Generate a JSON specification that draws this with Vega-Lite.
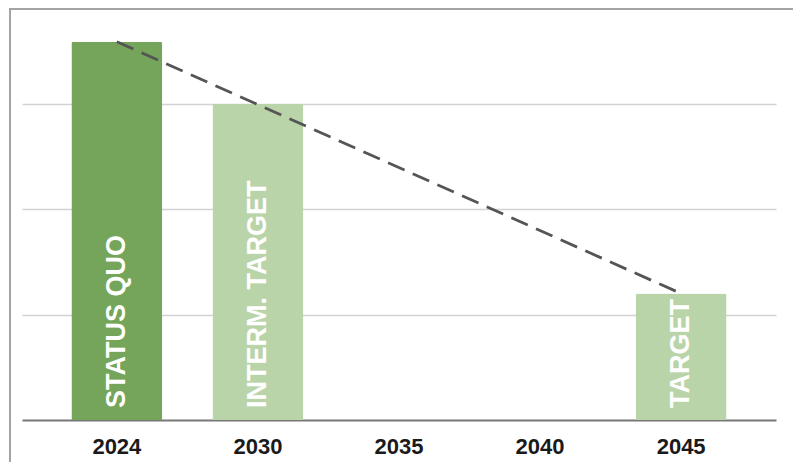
{
  "$schema": "https://vega.github.io/schema/vega-lite/v6.json",
  "width": 800,
  "height": 470,
  "autosize": {"type": "none"},
  "padding": {"left": 10, "top": 9, "right": -17, "bottom": -17},
  "background": "white",
  "config": {
    "view": {"stroke": "#a3a3a3", "strokeWidth": 2},
    "font": "Liberation Sans"
  },
  "data": {
    "values": [
      {"year": "2024", "value": 3.59, "label": "STATUS QUO", "kind": "status"},
      {"year": "2030", "value": 3.0, "label": "INTERM. TARGET", "kind": "target"},
      {"year": "2045", "value": 1.2, "label": "TARGET", "kind": "target"}
    ]
  },
  "encoding": {
    "x": {
      "field": "year",
      "type": "ordinal",
      "sort": null,
      "scale": {
        "domain": ["2024", "2030", "2035", "2040", "2045"],
        "range": [12, 766],
        "paddingInner": 0.355,
        "paddingOuter": 0.35
      },
      "axis": {
        "title": null,
        "orient": "bottom",
        "offset": -59,
        "domainColor": "#777777",
        "domainWidth": 2,
        "ticks": false,
        "labelAngle": 0,
        "labelFont": "Liberation Sans",
        "labelFontSize": 22,
        "labelFontWeight": "bold",
        "labelColor": "#1a1a1a",
        "labelPadding": 16,
        "grid": false
      }
    }
  },
  "layer": [
    {
      "mark": {"type": "bar", "cornerRadiusTopLeft": 2, "cornerRadiusTopRight": 2},
      "encoding": {
        "y": {
          "field": "value",
          "type": "quantitative",
          "scale": {"domain": [0, 3.9], "range": [411, 0], "nice": false, "zero": true},
          "axis": {
            "title": null,
            "values": [1, 2, 3],
            "labels": false,
            "ticks": false,
            "domain": false,
            "grid": true,
            "gridColor": "#d2d2d2",
            "gridWidth": 1.5
          }
        },
        "color": {
          "field": "kind",
          "type": "nominal",
          "scale": {"domain": ["status", "target"], "range": ["#74a55a", "#bad4aa"]},
          "legend": null
        }
      }
    },
    {
      "transform": [{"filter": "datum.year == '2024' || datum.year == '2045'"}],
      "mark": {"type": "line", "color": "#555555", "strokeWidth": 2.8, "strokeDash": [18, 9]},
      "encoding": {
        "y": {"field": "value", "type": "quantitative"}
      }
    },
    {
      "mark": {
        "type": "text",
        "angle": 270,
        "align": "left",
        "baseline": "middle",
        "dx": 12,
        "fontSize": 27,
        "fontWeight": "bold",
        "color": "white",
        "font": "Liberation Sans"
      },
      "encoding": {
        "y": {"datum": 0, "type": "quantitative"},
        "text": {"field": "label"}
      }
    }
  ]
}
